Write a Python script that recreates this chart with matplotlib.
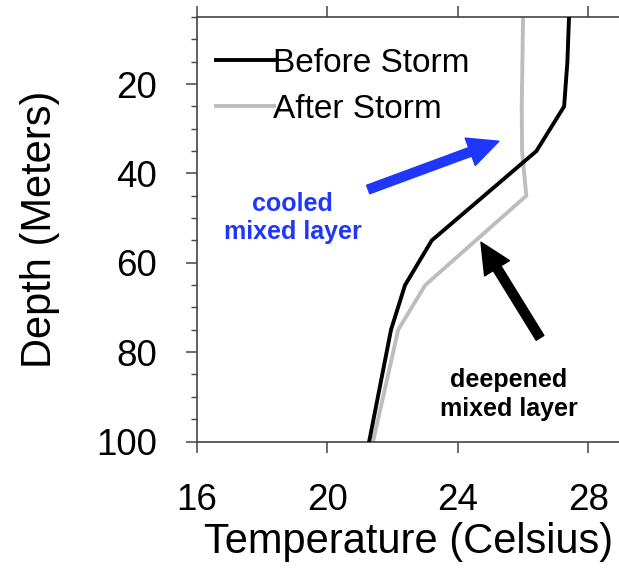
import matplotlib
matplotlib.use("Agg")
import matplotlib.pyplot as plt

plt.rcParams['font.family'] = ['Liberation Sans', 'DejaVu Sans']

# Temperature profiles (depth in metres, temperature in Celsius)
depth_before = [5, 15, 25, 35, 55, 65, 75, 100]
temp_before = [27.41, 27.36, 27.26, 26.41, 23.2, 22.38, 21.95, 21.28]

depth_after = [5, 15, 25, 35, 45, 65, 75, 100]
temp_after = [26.0, 25.98, 25.96, 25.97, 26.1, 23.0, 22.17, 21.4]

labels = ["Before Storm", "After Storm"]
x_ticks = [16, 20, 24, 28]
y_ticks = [20, 40, 60, 80, 100]

fig = plt.figure(figsize=(6.19, 5.83), dpi=100)
ax = fig.add_axes([0.3183, 0.2427, 0.6847, 0.7281])

ax.plot(temp_before, depth_before, color="black", lw=2.8, label=labels[0],
        solid_joinstyle="miter", zorder=3)
ax.plot(temp_after, depth_after, color="#bdbdbd", lw=2.8, label=labels[1],
        solid_joinstyle="miter", zorder=2)

ax.set_xlim(16, 29)
ax.set_ylim(100, 5)
ax.set_xticks(x_ticks)
ax.set_yticks(y_ticks)
ax.set_yticks(range(5, 100, 5), minor=True)

spine_col = "#444444"
for s in ax.spines.values():
    s.set_color(spine_col)
    s.set_linewidth(1.2)

ax.tick_params(axis="both", which="major", direction="out", length=8,
               width=1.1, color=spine_col, labelsize=26.5,
               top=True, right=True)
ax.tick_params(axis="x", which="major", pad=22)
ax.tick_params(axis="y", which="major", pad=21)
ax.tick_params(axis="y", which="minor", direction="out", length=4,
               width=1.0, color=spine_col, right=True)

ax.set_xlabel("Temperature (Celsius)", fontsize=30, labelpad=3)
ax.set_ylabel("Depth (Meters)", fontsize=30, labelpad=26)

ax.legend(loc="upper left", bbox_to_anchor=(0.045, 0.928), frameon=False,
          fontsize=24, handlelength=1.75, handletextpad=-0.05,
          borderaxespad=0, borderpad=0, labelspacing=0.45)

# annotations
blue = "#1e37fa"
ax.annotate("", xy=(25.26, 32.8), xytext=(21.25, 43.6),
            arrowprops=dict(width=6.5, headwidth=21, headlength=22,
                            color=blue, shrink=0))
ax.text(18.94, 50.0, "cooled\nmixed layer", color=blue, fontsize=18,
        fontweight="bold", ha="center", va="center", linespacing=1.25)

ax.annotate("", xy=(24.71, 55.4), xytext=(26.52, 76.8),
            arrowprops=dict(width=6.5, headwidth=21, headlength=22,
                            color="black", shrink=0))
ax.text(25.57, 89.5, "deepened\nmixed layer", color="black", fontsize=18,
        fontweight="bold", ha="center", va="center", linespacing=1.25)

fig.savefig("out.png", dpi=100)
